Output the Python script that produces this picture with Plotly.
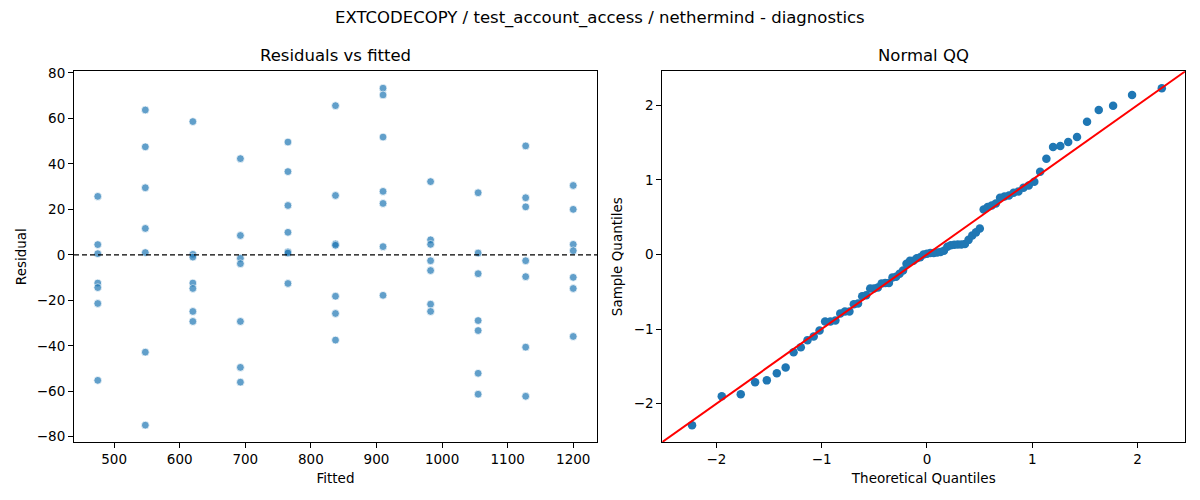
import statistics
import plotly.graph_objects as go

# ---- data ----
fitted_levels = [475, 547.5, 620, 692.5, 765, 837.5, 910, 982.5, 1055, 1127.5, 1200]
residuals_by_level = [
    [25.7, 4.5, 0.5, -12.4, -14.4, -21.4, -55.2],
    [63.7, 47.5, 29.5, 11.6, 1.0, -42.8, -74.9],
    [58.6, 0.2, -1.0, -12.4, -14.8, -24.9, -29.3],
    [42.3, 8.5, -1.5, -3.9, -29.3, -49.5, -56.0],
    [49.6, 36.6, 21.7, 9.9, 1.3, 0.8, -12.6],
    [65.6, 26.1, 4.8, 4.2, -18.2, -25.8, -37.5],
    [73.3, 70.3, 51.8, 27.9, 22.6, 3.6, -17.8],
    [32.2, 6.6, 4.6, -2.6, -6.9, -21.7, -24.9],
    [27.3, 0.8, -8.3, -28.9, -33.3, -52.1, -61.3],
    [47.9, 25.1, 21.1, -2.6, -9.6, -40.6, -62.2],
    [30.5, 20.0, 4.6, 1.8, -9.9, -14.8, -35.9],
]
left_xticks = [500, 600, 700, 800, 900, 1000, 1100, 1200]
left_yticks = [-80, -60, -40, -20, 0, 20, 40, 60, 80]
right_ticks = [-2, -1, 0, 1, 2]

suptitle = "EXTCODECOPY / test_account_access / nethermind - diagnostics"
title_left = "Residuals vs fitted"
title_right = "Normal QQ"

# ---- derived ----
fitted = []
resid = []
for lvl, rs in zip(fitted_levels, residuals_by_level):
    for r in rs:
        fitted.append(lvl)
        resid.append(r)

n = len(resid)
mu = sum(resid) / n
sd = (sum((r - mu) ** 2 for r in resid) / n) ** 0.5
sample_q = sorted((r - mu) / sd for r in resid)
nd = statistics.NormalDist()
theo_q = [nd.inv_cdf(i / (n + 1)) for i in range(1, n + 1)]


def padded(lo, hi, m=0.05):
    d = hi - lo
    return lo - m * d, hi + m * d


lx = padded(min(fitted), max(fitted))
ly = padded(min(resid), max(resid))
qx = padded(min(theo_q), max(theo_q))
qy = padded(min(sample_q), max(sample_q))
qlo = min(qx[0], qy[0])
qhi = max(qx[1], qy[1])

W, H = 1200, 500
FONT = "DejaVu Sans"
BLUE = "#1f77b4"

fig = go.Figure()
fig.add_trace(go.Scatter(
    x=fitted, y=resid, mode="markers", xaxis="x", yaxis="y",
    marker=dict(size=7.8, color=BLUE, opacity=0.7, line=dict(color="white", width=0.75)),
    showlegend=False, hoverinfo="skip",
))
fig.add_trace(go.Scatter(
    x=theo_q, y=sample_q, mode="markers", xaxis="x2", yaxis="y2",
    marker=dict(size=8.5, color=BLUE, line=dict(width=0)),
    showlegend=False, hoverinfo="skip",
))
fig.add_trace(go.Scatter(
    x=[qlo, qhi], y=[qlo, qhi], mode="lines", xaxis="x2", yaxis="y2",
    line=dict(color="red", width=2), showlegend=False, hoverinfo="skip",
))

fig.add_shape(type="line", xref="x domain", yref="y", x0=0, x1=1, y0=0, y1=0,
              line=dict(color="black", width=1.2, dash="5px,3px"))

yd = [(H - 442) / H, (H - 71.3) / H]
axis_common = dict(
    showgrid=False, zeroline=False, showline=True, linecolor="black", linewidth=1.1,
    mirror=True, ticks="outside", ticklen=5, tickwidth=1.1, tickcolor="black",
    automargin=False,
    tickfont=dict(family=FONT, size=13.5, color="black"),
    title_font=dict(family=FONT, size=13.5, color="black"),
)
fig.update_layout(
    template="none",
    width=W, height=H, autosize=False,
    margin=dict(l=0, r=0, t=0, b=0, pad=0),
    paper_bgcolor="white", plot_bgcolor="white",
    font=dict(family=FONT, color="black"),
    xaxis=dict(domain=[74 / W, 597 / W], range=list(lx), tickvals=left_xticks,
               title=dict(text="Fitted", standoff=7), anchor="y", **axis_common),
    yaxis=dict(domain=yd, range=list(ly), tickvals=left_yticks,
               title=dict(text="Residual", standoff=7), anchor="x", **axis_common),
    xaxis2=dict(domain=[662.3 / W, 1185.3 / W], range=[qlo, qhi], tickvals=right_ticks,
                title=dict(text="Theoretical Quantiles", standoff=7), anchor="y2", **axis_common),
    yaxis2=dict(domain=yd, range=[qlo, qhi], tickvals=right_ticks,
                title=dict(text="Sample Quantiles", standoff=7), anchor="x2", **axis_common),
    annotations=[
        dict(text=suptitle, x=0.5, y=1 - 18 / H, xref="paper", yref="paper",
             showarrow=False, font=dict(family=FONT, size=16.5), xanchor="center", yanchor="middle"),
        dict(text=title_left, x=(74 + 597) / 2 / W, y=1 - 56 / H, xref="paper", yref="paper",
             showarrow=False, font=dict(family=FONT, size=16.5), xanchor="center", yanchor="middle"),
        dict(text=title_right, x=(662.3 + 1185.3) / 2 / W, y=1 - 56 / H, xref="paper", yref="paper",
             showarrow=False, font=dict(family=FONT, size=16.5), xanchor="center", yanchor="middle"),
    ],
)

fig.write_html(
    "out.html",
    config={"responsive": False, "displayModeBar": False},
    post_script="document.body.style.margin='0';document.body.style.overflow='hidden';",
)
